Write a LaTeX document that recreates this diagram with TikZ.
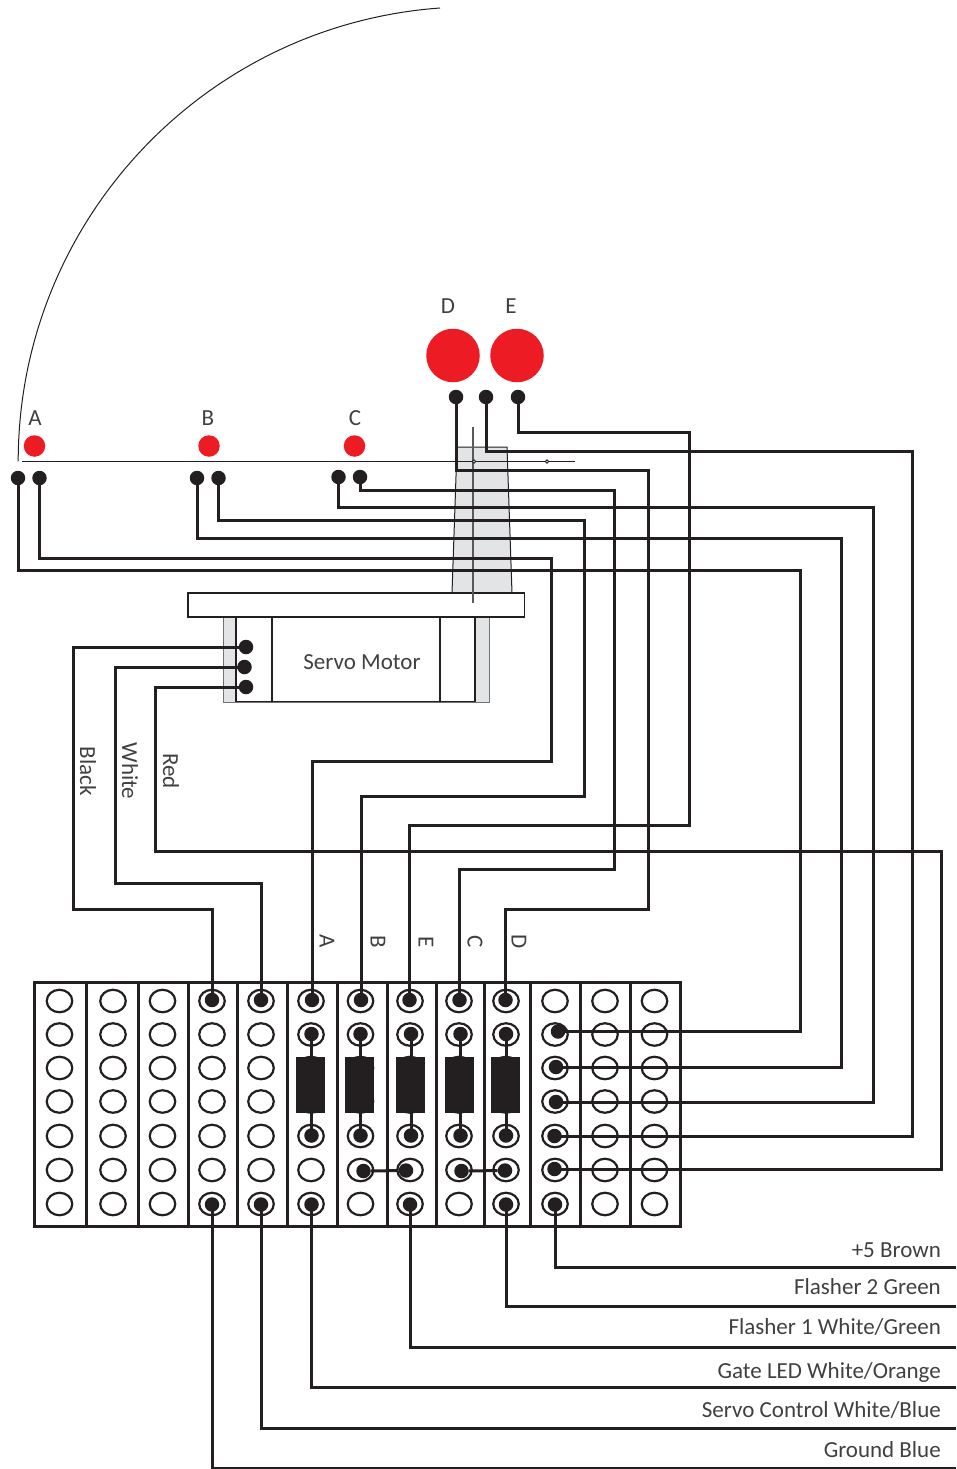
\documentclass[tikz,border=0pt]{standalone}
\usepackage{fontspec}
\setmainfont{Carlito}
\usetikzlibrary{shapes.geometric}
\definecolor{ink}{HTML}{231F20}
\definecolor{txt}{HTML}{404040}
\definecolor{ledred}{HTML}{ED1C24}
\definecolor{lightg}{HTML}{E3E4E6}
\tikzset{
  wire/.style={draw=ink,line width=3pt,line join=miter},
  hole/.style={ellipse,draw=ink,line width=2.2pt,minimum width=25.5pt,minimum height=22.5pt,inner sep=0pt},
  pin/.style={circle,fill=ink,minimum size=14.5pt,inner sep=0pt},
  smallpin/.style={circle,fill=ink,minimum size=14.5pt,inner sep=0pt},
  led/.style={circle,fill=ledred,minimum size=21.5pt,inner sep=0pt},
  bigled/.style={circle,fill=ledred,minimum size=53.5pt,inner sep=0pt},
  res/.style={rectangle,fill=ink,minimum width=29pt,minimum height=56pt,inner sep=0pt},
  lab/.style={text=txt,font=\fontsize{23}{25}\selectfont,inner sep=0pt},
  tag/.style={lab,anchor=base east},
  body/.style={draw=ink,line width=1.5pt},
  tick/.style={circle,draw=ink,fill=lightg,line width=.8pt,minimum size=3.5pt,inner sep=0pt}
}
\begin{document}
\begin{tikzpicture}[x=1pt,y=-1pt]
\useasboundingbox (0,0) rectangle (956,1469);
% servo horn and motor
\path[fill=lightg,draw=ink,line width=1pt] (457,447) -- (507,447) -- (512,593) -- (452,593) -- cycle;
\path[fill=lightg,draw=black!55,line width=1pt] (223,617) rectangle (489,702);
\node[body,fill=white,minimum width=239pt,minimum height=84pt,inner sep=0pt] (motor) at (355.5,659.5) {};
\draw[body] (272,617.5) -- (272,701.5);
\draw[body] (440,617.5) -- (440,701.5);
\draw[body,fill=white] (188,593) rectangle (524.5,617);
\node[lab] (servolabel) at (362,662) {Servo Motor};
% sweep arc and arm
\draw[ink,line width=1pt] (440,8) arc[start angle=94.15,end angle=180,radius=454.7pt];
\draw[ink,line width=1.1pt] (22,461.5) -- (575,461.5);
\draw[black!65,line width=1.2pt] (473,427) -- (473,603);
\node[tick] (armpivot) at (474,461.5) {};
\node[tick] (armtip) at (547,461.5) {};
% LEDs
\node[led] (ledA) at (34.5,446) {};
\node[led] (ledB) at (209,446) {};
\node[led] (ledC) at (354.5,446) {};
\node[bigled] (ledD) at (453,355.5) {};
\node[bigled] (ledE) at (517,355.5) {};
\node[lab] (lA) at (35,418) {A};
\node[lab] (lB) at (208,418) {B};
\node[lab] (lC) at (355,418) {C};
\node[lab] (lD) at (448,306) {D};
\node[lab] (lE) at (511,306) {E};
% board
\draw[ink,line width=3pt] (34,982) rectangle (680,1226);
\foreach \x in {86.5,138,188,237.5,287,337,387,436,484,530.5,580.5,630}
  \draw[ink,line width=3pt] (\x,982) -- (\x,1226);
\foreach \c/\x in {1/59.5,2/113,3/162.5,4/212,5/261,6/311,7/360.5,8/410,9/459,10/506,11/555,12/605,13/654.5}
  \foreach \r/\y in {1/1001,2/1034.5,3/1068,4/1101.5,5/1136,6/1170,7/1204}
    \node[hole] (h\c-\r) at (\x,\y) {};
% resistors
\node[res] (rA) at (310.5,1085) {};
\node[res] (rB) at (359.5,1085) {};
\node[res] (rE) at (410.5,1085) {};
\node[res] (rC) at (459.5,1085) {};
\node[res] (rD) at (505,1085) {};
% pins on the board
\foreach \c/\x in {4/212,5/261,6/312,7/361,8/409.5,9/459.5,10/505.5}
  \node[smallpin] (t\c) at (\x,1000) {};
\foreach \c/\x in {6/311.5,7/360.5,8/411,9/460.5,10/506}
  {\node[smallpin] (u\c) at (\x,1034) {};
   \node[smallpin] (v\c) at (\x,1135.5) {};}
\foreach \c/\x in {6,7,8,9,10}
  {\draw[wire] (u\c.center) -- (u\c.center |- r\ifcase\numexpr\c-6\relax A\or B\or E\or C\or D\fi.north);
   \draw[wire] (v\c.center) -- (v\c.center |- r\ifcase\numexpr\c-6\relax A\or B\or E\or C\or D\fi.south);}
\node[smallpin] (j1) at (363.5,1171) {};
\node[smallpin] (j2) at (406,1170.5) {};
\node[smallpin] (j3) at (461.5,1171) {};
\node[smallpin] (j4) at (505,1170.5) {};
\draw[wire] (j1) -- (j2);
\draw[wire] (j3) -- (j4);
\foreach \c/\x in {4/212,5/261,6/311.5,8/410,10/506,11/555}
  \node[smallpin] (b\c) at (\x,1204.5) {};
\node[smallpin] (e2) at (558,1031.5) {};
\node[smallpin] (e3) at (556,1067) {};
\node[smallpin] (e4) at (556,1102) {};
\node[smallpin] (e5) at (554.5,1136) {};
\node[smallpin] (e6) at (554.5,1169) {};
% pins at the LEDs
\node[pin] (a1) at (18,478) {};
\node[pin] (a2) at (39.5,478) {};
\node[pin] (b1) at (197,478) {};
\node[pin] (b2) at (218.5,478) {};
\node[pin] (c1) at (338.5,477) {};
\node[pin] (c2) at (360,477) {};
\node[pin] (d1) at (456,397) {};
\node[pin] (d2) at (486,397) {};
\node[pin] (d3) at (518,397) {};
\node[pin] (mk) at (246,647) {};
\node[pin] (mw) at (244.5,667) {};
\node[pin] (mr) at (246,687) {};
% LED wires
\draw[wire] (a1.center) |- (800,570) |- (e2.center);
\draw[wire] (a2.center) |- (551,558) |- (312,761) -- (t6.center);
\draw[wire] (b1.center) |- (841,538.5) |- (e3.center);
\draw[wire] (b2.center) |- (584,520.5) |- (361,796) -- (t7.center);
\draw[wire] (c1.center) |- (873,507.5) |- (e4.center);
\draw[wire] (c2.center) |- (614,490) |- (459.5,869) -- (t9.center);
\draw[wire] (d1.center) |- (648,470) |- (505.5,909) -- (t10.center);
\draw[wire] (d2.center) |- (912,451) |- (e5.center);
\draw[wire] (d3.center) |- (689.5,432) |- (409.5,825) -- (t8.center);
% servo wires
\draw[wire] (mk.center) -| (73,909) -| (t4.center);
\draw[wire] (mw.center) -| (115,883) -| (t5.center);
\draw[wire] (mr.center) -| (155,851.5) -| (941,1169) -- (e6.center);
% output wires
\coordinate (o1) at (956,1267);
\coordinate (o2) at (956,1306);
\coordinate (o3) at (956,1347);
\coordinate (o4) at (956,1387);
\coordinate (o5) at (956,1428);
\coordinate (o6) at (956,1468);
\draw[wire] (b11.center) |- (o1);
\draw[wire] (b10.center) |- (o2);
\draw[wire] (b8.center) |- (o3);
\draw[wire] (b6.center) |- (o4);
\draw[wire] (b5.center) |- (o5);
\draw[wire] (b4.center) |- (o6);
% labels
\node[lab,rotate=-90] (wA) at (327,941) {A};
\node[lab,rotate=-90] (wB) at (378,942) {B};
\node[lab,rotate=-90] (wE) at (426,942) {E};
\node[lab,rotate=-90] (wC) at (475,942) {C};
\node[lab,rotate=-90] (wD) at (519,942) {D};
\node[lab,rotate=-90] (wBlack) at (88,771) {Black};
\node[lab,rotate=-90] (wWhite) at (130,771) {White};
\node[lab,rotate=-90] (wRed) at (171,771) {Red};
\node[tag] (n1) at (941,1257) {+5 Brown};
\node[tag] (n2) at (941,1294) {Flasher 2 Green};
\node[tag] (n3) at (941,1334) {Flasher 1 White/Green};
\node[tag] (n4) at (941,1378) {Gate LED White/Orange};
\node[tag] (n5) at (941,1417) {Servo Control White/Blue};
\node[tag] (n6) at (941,1457) {Ground Blue};
\end{tikzpicture}
\end{document}
